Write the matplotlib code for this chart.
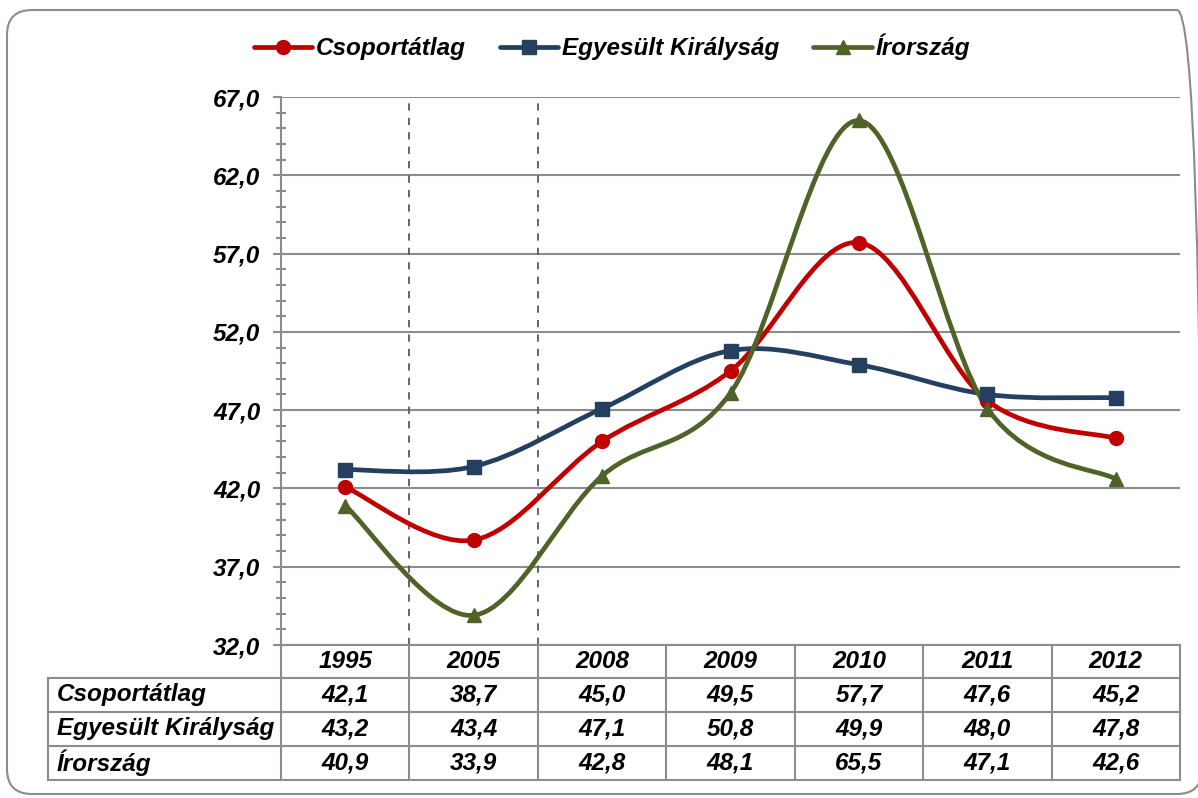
import matplotlib
matplotlib.use("Agg")
import matplotlib.pyplot as plt
from matplotlib.path import Path
from matplotlib.patches import PathPatch, FancyBboxPatch
from matplotlib.lines import Line2D
from matplotlib.ticker import MultipleLocator, FuncFormatter
import matplotlib.transforms as mtransforms

# data
years = ["1995", "2005", "2008", "2009", "2010", "2011", "2012"]
csoport = [42.1, 38.7, 45.0, 49.5, 57.7, 47.6, 45.2]
uk = [43.2, 43.4, 47.1, 50.8, 49.9, 48.0, 47.8]
irorszag = [40.9, 33.9, 42.8, 48.1, 65.5, 47.1, 42.6]
names = ["Csoportátlag", "Egyesült Királyság", "Írország"]
y_ticks = [32, 37, 42, 47, 52, 57, 62, 67]

colors = ["#C00000", "#243F60", "#4F6228"]
markers = ["o", "s", "^"]
msizes = [10, 9.5, 10.5]

plt.rcParams["font.family"] = ["Liberation Sans", "DejaVu Sans"]
plt.rcParams["font.weight"] = "bold"
plt.rcParams["font.style"] = "italic"
plt.rcParams["font.size"] = 17.5

W, H = 1198, 798
fig = plt.figure(figsize=(W / 100, H / 100), dpi=100)

# plot area in pixels
px_l, px_r, px_t, px_b = 281, 1180, 97, 645
ax = fig.add_axes([px_l / W, 1 - px_b / H, (px_r - px_l) / W, (px_b - px_t) / H])


def fmt(v):
    return f"{v:.1f}".replace(".", ",")


def smooth_path(xs, ys):
    # excel-like bezier smoothing (catmull-rom control points)
    pts = list(zip(xs, ys))
    verts = [pts[0]]
    codes = [Path.MOVETO]
    n = len(pts)
    for i in range(n - 1):
        p0 = pts[i - 1] if i > 0 else pts[i]
        p1 = pts[i]
        p2 = pts[i + 1]
        p3 = pts[i + 2] if i + 2 < n else pts[i + 1]
        c1 = (p1[0] + (p2[0] - p0[0]) / 6, p1[1] + (p2[1] - p0[1]) / 6)
        c2 = (p2[0] - (p3[0] - p1[0]) / 6, p2[1] - (p3[1] - p1[1]) / 6)
        verts += [c1, c2, p2]
        codes += [Path.CURVE4] * 3
    return Path(verts, codes)


x = list(range(len(years)))
series = [csoport, uk, irorszag]
handles = []
for vals, c, m, ms, name in zip(series, colors, markers, msizes, names):
    patch = PathPatch(smooth_path(x, vals), facecolor="none", edgecolor=c,
                      lw=3.4, capstyle="round", joinstyle="round", zorder=3)
    ax.add_patch(patch)
    ax.plot(x, vals, ls="none", marker=m, ms=ms, color=c, zorder=4)
    handles.append(Line2D([], [], color=c, lw=3.4, marker=m, ms=ms,
                          solid_capstyle="round"))

ax.set_xlim(-0.5, len(years) - 0.5)
ax.set_ylim(32, 67)
ax.set_yticks(y_ticks)
ax.yaxis.set_minor_locator(MultipleLocator(1))
ax.yaxis.set_major_formatter(FuncFormatter(lambda v, p: fmt(v)))
ax.tick_params(axis="y", which="major", direction="out", length=6, width=1.5,
               color="#8C8C8C", pad=9, labelsize=17.5)
ax.tick_params(axis="y", which="minor", direction="inout", length=7, width=1.5,
               color="#8C8C8C")
ax.set_xticks([])
ax.grid(axis="y", which="major", color="#8C8C8C", lw=1.5)
ax.set_axisbelow(True)
for s in ["top", "right"]:
    ax.spines[s].set_visible(False)
for s in ["left", "bottom"]:
    ax.spines[s].set_color("#8C8C8C")
    ax.spines[s].set_linewidth(1.5)

# dashed separators
for xv in [0.5, 1.5]:
    ax.axvline(xv, color="#595959", lw=1.3, dashes=(4, 4), zorder=1)

# data table below the plot
trans = mtransforms.blended_transform_factory(ax.transData, fig.transFigure)
rows_px = [645, 678, 712, 746, 780]
rows = [1 - r / H for r in rows_px]
fig.canvas.draw()
x_lab = ax.transData.inverted().transform((48, 0))[0]
x_right = len(years) - 0.5
line_kw = dict(color="#8C8C8C", lw=1.5, transform=trans, clip_on=False)

for r in rows[1:]:
    ax.plot([x_lab, x_right], [r, r], **line_kw)
for i in range(len(years) + 1):
    xv = i - 0.5
    ax.plot([xv, xv], [rows[0], rows[-1]], **line_kw)
ax.plot([x_lab, x_lab], [rows[1], rows[-1]], **line_kw)

for i, yr in enumerate(years):
    ax.text(i, (rows[0] + rows[1]) / 2, yr, ha="center", va="center",
            transform=trans)
x_lab_text = ax.transData.inverted().transform((57, 0))[0]
for j, (vals, name) in enumerate(zip(series, names)):
    yc = (rows[j + 1] + rows[j + 2]) / 2
    ax.text(x_lab_text, yc, name, ha="left", va="center", transform=trans)
    for i, v in enumerate(vals):
        ax.text(i, yc, fmt(v), ha="center", va="center", transform=trans)

# legend
fig.legend(handles, names, loc="center", bbox_to_anchor=(612 / W, 1 - 47 / H),
           ncol=3, frameon=False, handlelength=2.4, handletextpad=0.15,
           columnspacing=1.4)

# rounded outer frame (right edge runs just past the image)
frame = FancyBboxPatch((0.07, 0.04), 11.95, 7.84,
                       boxstyle="round,pad=0,rounding_size=0.25",
                       transform=fig.dpi_scale_trans, facecolor="none",
                       edgecolor="#8C8C8C", lw=1.5)
fig.patches.append(frame)

fig.savefig("out.png", dpi=100)
